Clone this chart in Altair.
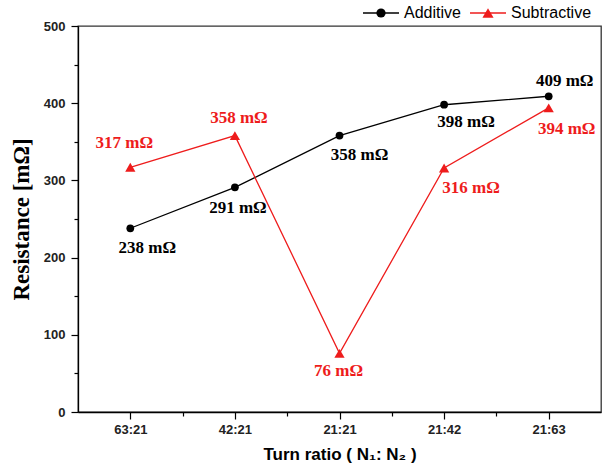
import altair as alt
import pandas as pd

ratios = ["63:21", "42:21", "21:21", "21:42", "21:63"]
additive = [238, 291, 358, 398, 409]
subtractive = [317, 358, 76, 316, 394]
series_names = ["Additive", "Subtractive"]
colors = ["#000000", "#ee1c1c"]

# label offsets (pixels) for annotation text, styling only
add_off = [(17, 20), (3, 21), (20, 19), (22, 17), (16, -15)]
sub_off = [(-6, -24), (4, -18), (-1, 18), (27, 20), (18, 21)]

rows = []
for i, r in enumerate(ratios):
    rows.append({"pos": i + 1, "ratio": r, "series": "Additive", "value": additive[i], "idx": i})
    rows.append({"pos": i + 1, "ratio": r, "series": "Subtractive", "value": subtractive[i], "idx": i})
df = pd.DataFrame(rows)

label_expr = "datum.value % 1 === 0 ? " + str(ratios) + "[datum.value - 1] : ''"

x = alt.X("pos:Q", scale=alt.Scale(domain=[0.5, 5.5], nice=False, zero=False),
          axis=alt.Axis(values=[1, 1.5, 2, 2.5, 3, 3.5, 4, 4.5, 5],
                        labelExpr=label_expr,
                        tickSize={"condition": {"test": "datum.value % 1 === 0", "value": 7}, "value": 4},
                        title="Turn ratio ( N\u2081: N\u2082 )", grid=False))
y = alt.Y("value:Q", scale=alt.Scale(domain=[0, 500], nice=False),
          axis=alt.Axis(values=list(range(0, 501, 50)),
                        labelExpr="datum.value % 100 === 0 ? datum.label : ''",
                        tickSize={"condition": {"test": "datum.value % 100 === 0", "value": 7}, "value": 4},
                        title="Resistance [m\u03a9]", grid=False,
                        titleFont="Liberation Serif", titleFontSize=23, titleFontWeight="bold",
                        titlePadding=10))

color = alt.Color("series:N", scale=alt.Scale(domain=series_names, range=colors), legend=None)

base = alt.Chart(df)
lines = base.mark_line(strokeWidth=1.3).encode(x=x, y=y, color=color, detail="series:N")
points = base.mark_point(filled=True, opacity=1).encode(
    x=x, y=y, color=color,
    shape=alt.Shape("series:N", scale=alt.Scale(domain=series_names, range=["circle", "triangle-up"]), legend=None),
    size=alt.Size("series:N", scale=alt.Scale(domain=series_names, range=[60, 105]), legend=None))

texts = []
for s, offs, col in [("Additive", add_off, colors[0]), ("Subtractive", sub_off, colors[1])]:
    for i, (dx, dy) in enumerate(offs):
        texts.append(
            base.transform_filter(f"datum.series == '{s}' && datum.idx == {i}")
            .transform_calculate(lab="datum.value + ' m\u03a9'")
            .mark_text(dx=dx, dy=dy, font="Liberation Serif", fontWeight="bold", fontSize=17, color=col)
            .encode(x=x, y=y, text="lab:N")
        )

# manual legend (layout in pixels relative to the plot area)
one = alt.Chart(pd.DataFrame({"k": [0]}))
leg_y = -13
leg = []
for name, col, shp, sz, x0 in [(series_names[0], colors[0], "circle", 85, 285),
                               (series_names[1], colors[1], "triangle-up", 125, 392)]:
    leg.append(one.mark_rule(color=col, strokeWidth=1.5).encode(
        x=alt.value(x0), x2=alt.value(x0 + 36), y=alt.value(leg_y)))
    leg.append(one.mark_point(filled=True, opacity=1, color=col, shape=shp, size=sz).encode(
        x=alt.value(x0 + 18), y=alt.value(leg_y)))
    leg.append(one.mark_text(align="left", baseline="middle", font="Liberation Sans", fontSize=16,
                             color="#000000").encode(
        x=alt.value(x0 + 41), y=alt.value(leg_y), text=alt.value(name)))

chart = alt.layer(lines, points, *texts, *leg).properties(
    width=523, height=386,
    autosize=alt.AutoSizeParams(type="none"),
    padding={"left": 78, "top": 26, "right": 4, "bottom": 54},
).configure_view(stroke="#333333", strokeWidth=1.3).configure_axis(
    domainColor="#000000", tickColor="#000000", labelFont="Liberation Sans", labelFontWeight="bold",
    labelFontSize=13, labelColor="#222222", titleColor="#000000", titleFont="Liberation Sans",
    titleFontWeight="bold", titleFontSize=17, domainWidth=1.3, tickWidth=1.2,
).configure_axisX(labelPadding=4, titlePadding=10).configure_axisY(labelPadding=6)

chart.save("out.html", embed_options={"renderer": "svg", "actions": False})
